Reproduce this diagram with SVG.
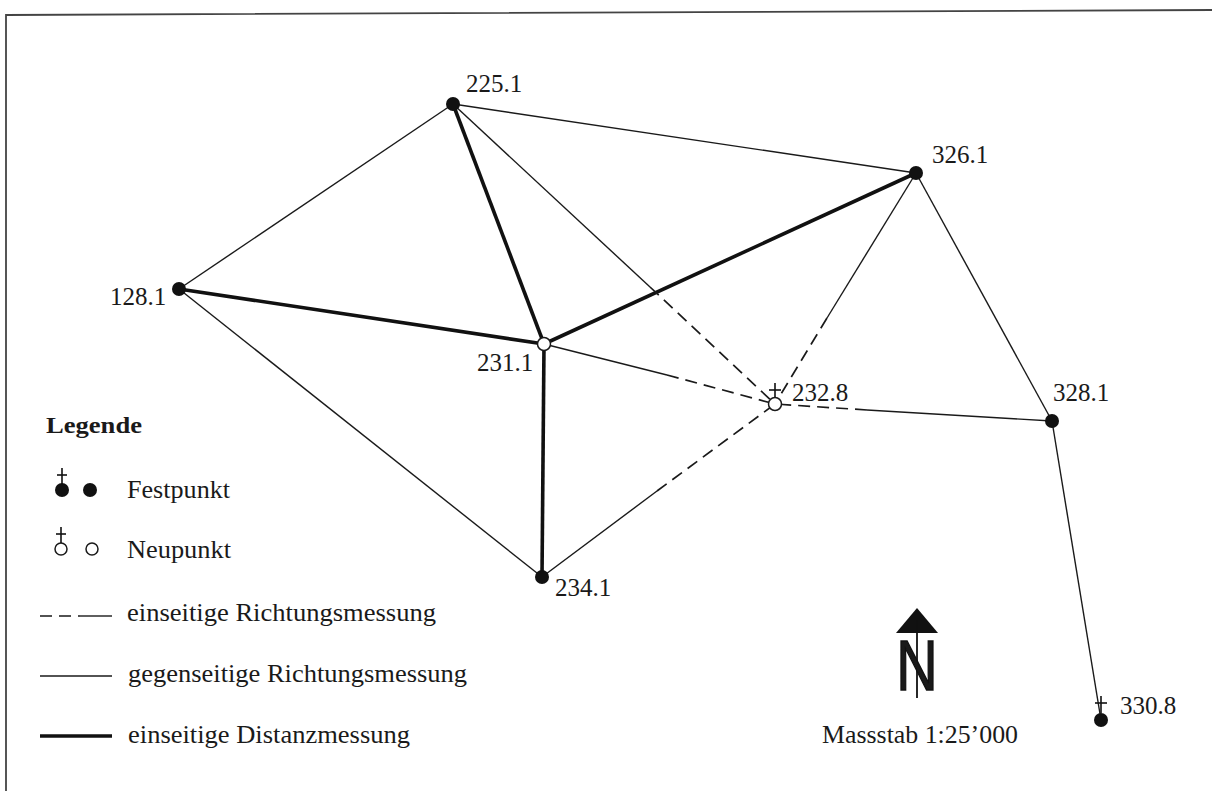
<svg xmlns="http://www.w3.org/2000/svg" width="1212" height="791" viewBox="0 0 1212 791">
<style>
text{font-family:"Liberation Serif","Times New Roman",serif;font-size:25px;fill:#1a1a1a}
.b{font-weight:bold;font-size:23px}
.thin{stroke:#1a1a1a;stroke-width:1.4;fill:none}
.thick{stroke:#111;stroke-width:3.6;fill:none}
.dash{stroke:#1a1a1a;stroke-width:1.7;fill:none;stroke-dasharray:12 7}
.fix{fill:#111}
.neu{fill:#fff;stroke:#1a1a1a;stroke-width:1.5}
.cr{stroke:#111;stroke-width:1.6}
</style>
<rect width="1212" height="791" fill="#fff"/>
<g id="frame">
<path d="M6 791 L6 15 L1212 10" fill="none" stroke="#444" stroke-width="1.8"/>
</g>
<g id="connectors">
<line class="thin" x1="179" y1="289" x2="453" y2="104"/>
<line class="thin" x1="453" y1="104" x2="916" y2="173"/>
<line class="thin" x1="179" y1="289" x2="542" y2="577"/>
<line class="thin" x1="916" y1="173" x2="1052" y2="421"/>
<line class="thin" x1="1052" y1="421" x2="1101" y2="720"/>
<line class="thick" x1="179" y1="289" x2="544" y2="344"/>
<line class="thick" x1="453" y1="104" x2="544" y2="344"/>
<line class="thick" x1="916" y1="173" x2="544" y2="344"/>
<line class="thick" x1="544" y1="344" x2="542" y2="577"/>
<line class="thin" x1="453" y1="104" x2="650" y2="287"/>
<line class="dash" x1="650" y1="287" x2="775" y2="404"/>
<line class="thin" x1="916" y1="173" x2="827" y2="318"/>
<line class="dash" x1="827" y1="318" x2="775" y2="404"/>
<line class="thin" x1="544" y1="344" x2="667" y2="375"/>
<line class="dash" x1="667" y1="375" x2="775" y2="404"/>
<line class="thin" x1="542" y1="577" x2="657" y2="491"/>
<line class="dash" x1="657" y1="491" x2="775" y2="404"/>
<line class="thin" x1="1052" y1="421" x2="867" y2="410"/>
<line class="dash" x1="867" y1="410" x2="775" y2="404"/>
</g>
<g id="n225_1"><circle class="fix" cx="453" cy="104" r="7"/><text x="466" y="92">225.1</text></g>
<g id="n326_1"><circle class="fix" cx="916" cy="173" r="7"/><text x="932" y="163">326.1</text></g>
<g id="n128_1"><circle class="fix" cx="179" cy="289" r="7"/><text x="110" y="305">128.1</text></g>
<g id="n231_1"><circle class="neu" cx="544" cy="344" r="6.5"/><text x="477" y="371">231.1</text></g>
<g id="n232_8"><circle class="neu" cx="775" cy="404" r="6.5"/><line class="cr" x1="775" y1="383" x2="775" y2="397"/><line class="cr" x1="769" y1="390" x2="781" y2="390"/><text x="792" y="401">232.8</text></g>
<g id="n328_1"><circle class="fix" cx="1052" cy="421" r="7"/><text x="1053" y="401">328.1</text></g>
<g id="n234_1"><circle class="fix" cx="542" cy="577" r="7"/><text x="555" y="596">234.1</text></g>
<g id="n330_8"><circle class="fix" cx="1101" cy="720" r="7"/><line class="cr" x1="1101" y1="696" x2="1101" y2="713"/><line class="cr" x1="1095" y1="703" x2="1107" y2="703"/><text x="1120" y="714">330.8</text></g>
<g id="legend">
<text class="b" x="46" y="433" textLength="96" lengthAdjust="spacingAndGlyphs">Legende</text>
<circle class="fix" cx="62" cy="490" r="7"/><line class="cr" x1="62" y1="468" x2="62" y2="486"/><line class="cr" x1="57" y1="475" x2="67" y2="475"/>
<circle class="fix" cx="90" cy="490" r="7"/>
<text x="127" y="498" textLength="103" lengthAdjust="spacingAndGlyphs">Festpunkt</text>
<circle class="neu" cx="61" cy="549" r="6"/><line class="cr" x1="61" y1="527" x2="61" y2="543"/><line class="cr" x1="56" y1="534" x2="66" y2="534"/>
<circle class="neu" cx="92" cy="549" r="6"/>
<text x="127" y="558" textLength="104" lengthAdjust="spacingAndGlyphs">Neupunkt</text>
<line class="dash" x1="40" y1="616" x2="80" y2="616" stroke-dasharray="6 5"/><line class="thin" x1="80" y1="616" x2="112" y2="616"/>
<text x="127" y="621" textLength="309" lengthAdjust="spacingAndGlyphs">einseitige Richtungsmessung</text>
<line class="thin" x1="40" y1="676" x2="112" y2="676"/>
<text x="128" y="682" textLength="339" lengthAdjust="spacingAndGlyphs">gegenseitige Richtungsmessung</text>
<line class="thick" x1="40" y1="736" x2="112" y2="736"/>
<text x="128" y="743" textLength="282" lengthAdjust="spacingAndGlyphs">einseitige Distanzmessung</text>
</g>
<g id="north">
<polygon points="917,608 896,633 938,633" fill="#111"/>
<line x1="917" y1="620" x2="917" y2="698" stroke="#111" stroke-width="1.8"/>
<text x="917" y="690" text-anchor="middle" stroke="#111" stroke-width="1.5" style="font-family:'Liberation Sans',Arial,sans-serif;font-size:70px" transform="translate(917 0) scale(0.82 1) translate(-917 0)">N</text>
<text x="822" y="743" textLength="196" lengthAdjust="spacingAndGlyphs">Massstab 1:25’000</text>
</g>
</svg>
